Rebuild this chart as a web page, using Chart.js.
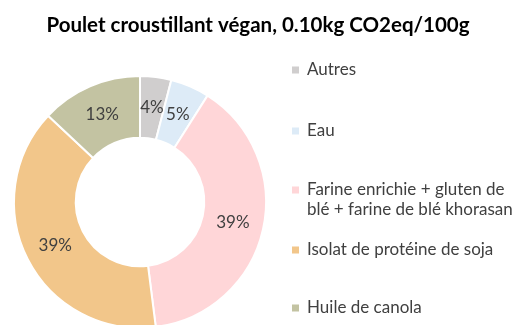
<!DOCTYPE html>
<html>
<head>
<meta charset="utf-8">
<script src="https://cdn.jsdelivr.net/npm/chart.js@4/dist/chart.umd.min.js"></script>
<style>
  html, body { margin: 0; padding: 0; background: #fff; overflow: hidden; }
  #wrap { width: 516px; height: 325px; overflow: hidden; }
  canvas { display: block; }
</style>
</head>
<body>
<div id="wrap"><canvas id="c" width="516" height="340"></canvas></div>
<script>
// Share of the footprint by ingredient (percent)
const titleText = 'Poulet croustillant végan, 0.10kg CO2eq/100g';
const categories = [
  'Autres',
  'Eau',
  ['Farine enrichie + gluten de', 'blé + farine de blé khorasan'],
  'Isolat de protéine de soja',
  'Huile de canola'
];
const shares = [4, 5, 39, 39, 13];
const sliceColors = ['#D0CECE', '#DDEBF7', '#FFD6D8', '#F2C68A', '#C3C3A2'];

// Vertical centre of the first line of each legend entry
const legendRowY = [70, 131, 190, 250, 308];
const legendLineGap = 19.5;
const textColor = '#404040';
const fontFamily = 'Lato, "Open Sans", "Liberation Sans", sans-serif';

const decorations = {
  id: 'decorations',
  afterDatasetsDraw(chart) {
    const ctx = chart.ctx;
    const meta = chart.getDatasetMeta(0);
    ctx.save();
    ctx.fillStyle = textColor;
    ctx.font = '17px ' + fontFamily;
    ctx.textAlign = 'center';
    ctx.textBaseline = 'middle';
    meta.data.forEach((arc, i) => {
      const p = arc.tooltipPosition();
      ctx.fillText(shares[i] + '%', p.x, p.y);
    });
    ctx.restore();
  },
  afterDraw(chart) {
    const ctx = chart.ctx;
    ctx.save();
    // title
    ctx.fillStyle = '#000';
    ctx.font = 'bold 20.5px ' + fontFamily;
    ctx.textAlign = 'center';
    ctx.textBaseline = 'middle';
    ctx.fillText(titleText, 258, 25);
    // legend
    ctx.font = '17px ' + fontFamily;
    ctx.textAlign = 'left';
    categories.forEach((lab, i) => {
      const y = legendRowY[i];
      ctx.fillStyle = sliceColors[i];
      ctx.fillRect(292, y - 3.5, 7, 7);
      ctx.fillStyle = textColor;
      const lines = Array.isArray(lab) ? lab : [lab];
      lines.forEach((ln, k) => ctx.fillText(ln, 307, y + k * legendLineGap));
    });
    ctx.restore();
  }
};

new Chart(document.getElementById('c'), {
  type: 'doughnut',
  data: {
    labels: categories,
    datasets: [{
      data: shares,
      backgroundColor: sliceColors,
      borderColor: '#ffffff',
      borderWidth: 2
    }]
  },
  options: {
    responsive: false,
    animation: false,
    cutout: '51%',
    layout: { padding: { left: 13, right: 249, top: 75, bottom: 11 } },
    plugins: {
      legend: { display: false },
      title: { display: false },
      tooltip: { enabled: false }
    }
  },
  plugins: [decorations]
});
</script>
</body>
</html>
